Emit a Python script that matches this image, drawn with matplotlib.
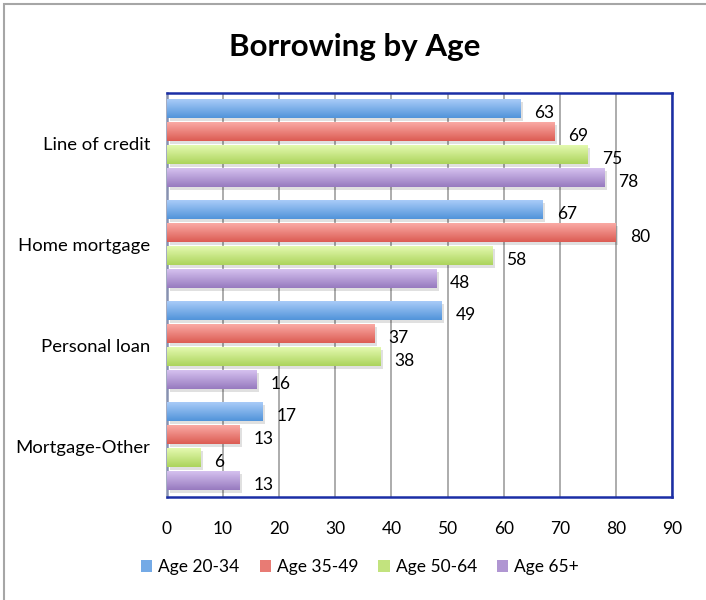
import matplotlib
matplotlib.use("Agg")
import matplotlib.pyplot as plt
import matplotlib.transforms as mtransforms
from matplotlib.patches import Patch, Rectangle
from matplotlib.colors import LinearSegmentedColormap
import numpy as np

WIDTH = 706
HEIGHT = 600
DPI = 100

categories = ["Line of credit", "Home mortgage", "Personal loan", "Mortgage-Other"]
series_names = ["Age 20-34", "Age 35-49", "Age 50-64", "Age 65+"]
age_20_34 = [63, 67, 49, 17]
age_35_49 = [69, 80, 37, 13]
age_50_64 = [75, 58, 38, 6]
age_65_plus = [78, 48, 16, 13]
x_ticks = [0, 10, 20, 30, 40, 50, 60, 70, 80, 90]

# (top colour, bottom colour) of each bar's vertical gradient
gradients = [
    ("#a9cbf8", "#5194da"),
    ("#faaaa5", "#dc5c53"),
    ("#e4f9b0", "#acd45c"),
    ("#d5c1ef", "#977abf"),
]

FONT = ["Lato", "DejaVu Sans"]
plt.rcParams["font.family"] = FONT


def gradient_bar(ax, x, y, h, top, bottom):
    cmap = LinearSegmentedColormap.from_list("g", [top, bottom])
    grad = np.linspace(0, 1, 64).reshape(-1, 1)
    # shadow to the lower right
    shadow = mtransforms.offset_copy(ax.transData, fig=ax.figure, x=2.5, y=-2.5, units="dots")
    ax.barh(y, x, height=h, left=0, color="black", alpha=0.12, transform=shadow, zorder=2)
    ax.imshow(grad, cmap=cmap, aspect="auto", extent=[0, x, y + h / 2, y - h / 2],
              interpolation="bicubic", zorder=3)
    return cmap


def main():
    fig = plt.figure(figsize=(WIDTH / DPI, HEIGHT / DPI), dpi=DPI)
    ax = fig.add_axes([167 / WIDTH, 1 - 497 / HEIGHT, (672 - 167) / WIDTH, (497 - 93) / HEIGHT])

    data = [age_20_34, age_35_49, age_50_64, age_65_plus]
    slot = 0.2277
    bar_h = 0.188
    idx = np.arange(len(categories))
    legend_colors = []
    for s, values in enumerate(data):
        top, bottom = gradients[s]
        for i, v in enumerate(values):
            y = idx[i] + (s - 1.5) * slot
            cmap = gradient_bar(ax, v, y, bar_h, top, bottom)
            ax.annotate(str(v), (v, y), xytext=(10, -3), textcoords="offset points",
                        ha="left", va="center", fontsize=12.5, color="black", zorder=5)
        legend_colors.append(cmap(0.6))

    ax.set_xlim(0, 90)
    ax.set_ylim(len(categories) - 0.5, -0.5)
    ax.set_xticks(x_ticks)
    ax.set_xticklabels([str(t) for t in x_ticks], fontsize=12.5)
    ax.set_yticks(idx)
    ax.set_yticklabels(categories, fontsize=13.3)
    ax.tick_params(axis="both", length=0)
    ax.tick_params(axis="x", pad=17)
    ax.tick_params(axis="y", pad=12)
    ax.grid(True, axis="x", color="#a6a6a6", linewidth=1.3, zorder=1)
    ax.set_axisbelow(True)

    for side in ["top", "right", "bottom"]:
        ax.spines[side].set_color("#1b2ea6")
        ax.spines[side].set_linewidth(1.8)
    ax.spines["left"].set_color("#8791b0")
    ax.spines["left"].set_linewidth(1.8)

    fig.text(355 / WIDTH, 1 - 47 / HEIGHT, "Borrowing by Age", ha="center", va="center",
             fontsize=22.5, fontweight="bold")

    handles = [Patch(facecolor=c, edgecolor="none") for c in legend_colors]
    fig.legend(handles, series_names, loc="center", bbox_to_anchor=(0.51, 1 - 567 / HEIGHT),
               ncol=4, frameon=False, fontsize=12.5, handlelength=0.65, handleheight=0.65,
               handletextpad=0.35, columnspacing=1.15)

    # chart frame, only the top and left edges fall inside the image
    fig.patches.append(Rectangle((4 / WIDTH, -0.1), 1.2, 1.1 - 4 / HEIGHT, transform=fig.transFigure,
                                 fill=False, edgecolor="#a6a6a6", linewidth=1.5))

    fig.savefig("out.png", dpi=DPI)
    plt.close(fig)


if __name__ == "__main__":
    main()
